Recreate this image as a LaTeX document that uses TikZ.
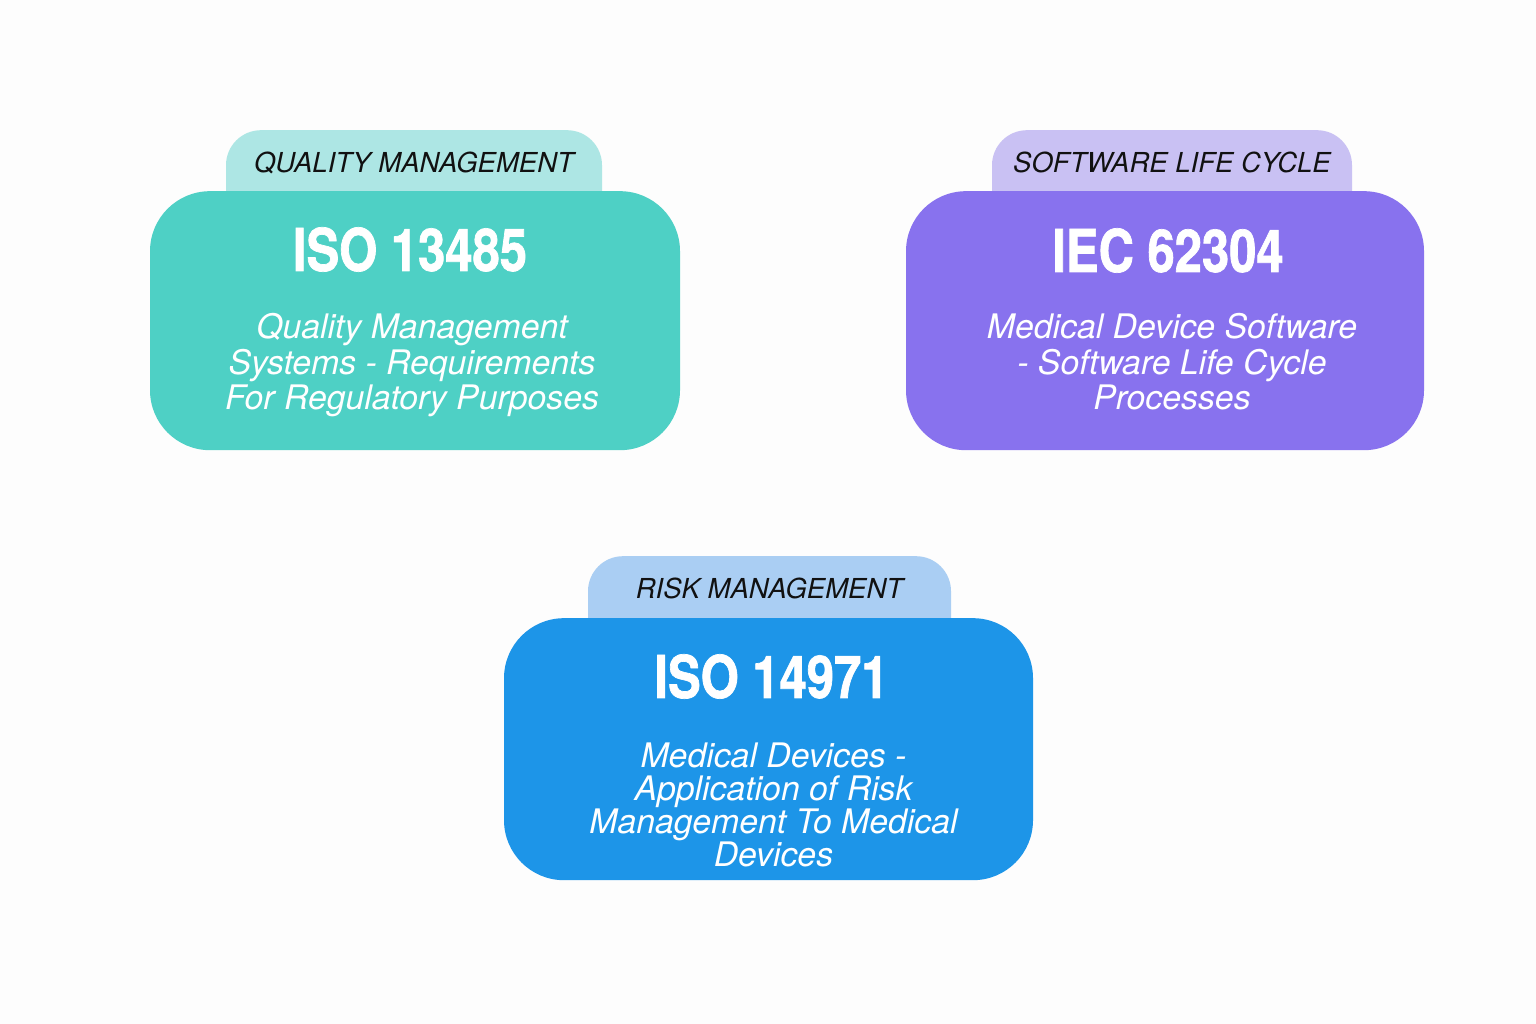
\documentclass[tikz,border=0pt]{standalone}
\usepackage{fontspec}
\setmainfont{TeX Gyre Heros}
\setsansfont{TeX Gyre Heros}
\newfontfamily\titlefont[FakeStretch=0.83,FakeBold=1.2]{TeX Gyre Heros}
\usetikzlibrary{positioning}

\definecolor{bgwhite}{HTML}{FDFDFD}
\definecolor{qmfill}{HTML}{4ED0C5}
\definecolor{qmtabfill}{HTML}{ADE6E4}
\definecolor{swfill}{HTML}{8872EE}
\definecolor{swtabfill}{HTML}{C9C1F3}
\definecolor{rmfill}{HTML}{1D95E8}
\definecolor{rmtabfill}{HTML}{AACEF3}
\definecolor{tabtext}{HTML}{111111}

\begin{document}
\begin{tikzpicture}[
  x=1pt, y=1pt,
  tab/.style={rounded corners=35pt, inner sep=0pt, anchor=north,
    text height=42pt, text depth=80pt, text=tabtext,
    font=\fontsize{27.5}{30}\selectfont\itshape},
  stdbox/.style={rounded corners=60pt, inner sep=0pt, anchor=north},
  stdtitle/.style={text=white, inner sep=0pt, anchor=base,
    font=\titlefont\bfseries\fontsize{59}{64}\selectfont},
  stddesc/.style={text=white, inner sep=0pt, align=center, anchor=base,
    font=\fontsize{33.8}{35.8}\selectfont\itshape}
]
\fill[bgwhite] (0,0) rectangle (1536,1024);
\useasboundingbox (0,0) rectangle (1536,1024);
% Quality management
\node[tab, fill=qmtabfill, minimum width=376pt] (qmtab) at (414,894) {QUALITY MANAGEMENT};
\node[stdbox, fill=qmfill, minimum width=530pt, minimum height=259pt] (qmbox) at ([xshift=1pt,yshift=-61pt]qmtab.north) {};
\node[stdtitle] (qmtitle) at ([xshift=-5pt,yshift=-80pt]qmbox.north) {ISO 13485};
\node[stddesc] (qmdesc) at ([xshift=-3pt,yshift=-219pt]qmbox.north) {Quality Management\\Systems - Requirements\\For Regulatory Purposes};
% Software life cycle
\node[tab, fill=swtabfill, minimum width=360pt] (swtab) at (1172,894) {SOFTWARE LIFE CYCLE};
\node[stdbox, fill=swfill, minimum width=518pt, minimum height=259pt] (swbox) at ([xshift=-7pt,yshift=-61pt]swtab.north) {};
\node[stdtitle] (swtitle) at ([xshift=3pt,yshift=-81pt]swbox.north) {IEC 62304};
\node[stddesc] (swdesc) at ([xshift=7pt,yshift=-219pt]swbox.north) {Medical Device Software\\- Software Life Cycle\\Processes};
% Risk management
\node[tab, fill=rmtabfill, minimum width=363pt] (rmtab) at (769.5,468) {RISK MANAGEMENT};
\node[stdbox, fill=rmfill, minimum width=529pt, minimum height=262pt] (rmbox) at ([xshift=-1pt,yshift=-62pt]rmtab.north) {};
\node[stdtitle] (rmtitle) at ([xshift=3pt,yshift=-80pt]rmbox.north) {ISO 14971};
\node[stddesc, font=\fontsize{33.8}{33}\selectfont\itshape] (rmdesc) at ([xshift=5pt,yshift=-249pt]rmbox.north) {Medical Devices -\\Application of Risk\\Management To Medical\\Devices};
\end{tikzpicture}
\end{document}
